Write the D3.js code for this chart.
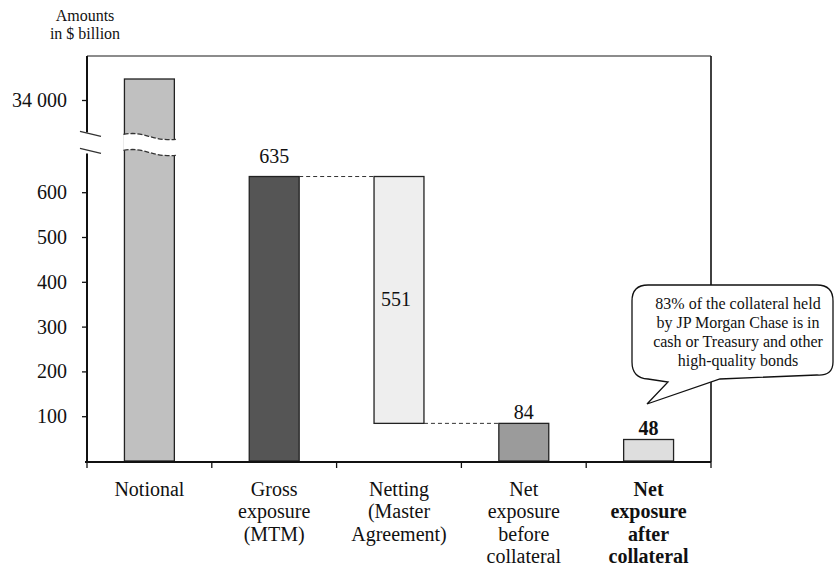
<!DOCTYPE html>
<html>
<head>
<meta charset="utf-8">
<script src="https://cdn.jsdelivr.net/npm/d3@7"></script>
<style>
  html, body { margin: 0; padding: 0; background: #fff; }
  svg { display: block; }
  svg text { font-family: "Liberation Serif", "Times New Roman", Times, "DejaVu Serif", serif; }
</style>
</head>
<body>
<svg id="chart" width="835" height="569"></svg>
<script>
// Derivative exposure waterfall, amounts in $ billion
const categories = ["Notional", "Gross exposure (MTM)", "Netting (Master Agreement)",
                    "Net exposure before collateral", "Net exposure after collateral"];
const categoryLines = [
  ["Notional"],
  ["Gross", "exposure", "(MTM)"],
  ["Netting", "(Master", "Agreement)"],
  ["Net", "exposure", "before", "collateral"],
  ["Net", "exposure", "after", "collateral"]
];
const values = [35000, 635, 551, 84, 48];        // bar heights
const bases = [0, 0, 84, 0, 0];                   // netting floats between 84 and 635
const valueLabels = [null, "635", "551", "84", "48"];
const lowerTicks = [100, 200, 300, 400, 500, 600];
const upperTicks = [34000];
const calloutLines = ["83% of the collateral held", "by JP Morgan Chase is in",
                      "cash or Treasury and other", "high-quality bonds"];

const fills = ["#c0c0c0", "#555555", "#eeeeee", "#9b9b9b", "#dedede"];
const bold = [false, false, false, false, true];

(function draw() {
  const serif = "'Liberation Serif', 'Times New Roman', Times, 'DejaVu Serif', serif";
  const svg = d3.select("#chart");
  const fmt = d3.formatLocale({ decimal: ".", thousands: " ", grouping: [3], currency: ["$", ""] }).format(",d");

  const xL = 87, xR = 711, yT = 56;
  const x = d3.scaleBand().domain(categories).range([xL, xR]).paddingInner(0.6).paddingOuter(0.3);
  const yLow = d3.scaleLinear().domain([0, 700]).range([461, 147.4]);
  const yUp = d3.scaleLinear().domain([32000, 36000]).range([142, 58]);
  const bw = x.bandwidth();
  const breakY = yLow(700) - 5;

  // y position for a value, picking the segment of the broken axis
  const yOf = v => v > 700 ? yUp(v) : yLow(v);

  // frame: top and right edges
  svg.append("line").attr("x1", xL).attr("x2", xR).attr("y1", yT).attr("y2", yT)
    .attr("stroke", "#666").attr("stroke-width", 1.5);
  svg.append("line").attr("x1", xR).attr("x2", xR).attr("y1", yT).attr("y2", yLow(0) + 1)
    .attr("stroke", "#111").attr("stroke-width", 1.6);

  // bars
  const bars = categories.map((c, i) => ({ c, i, v: values[i], b: bases[i] }));
  svg.append("g").selectAll("rect").data(bars).join("rect")
    .attr("x", d => x(d.c))
    .attr("width", bw)
    .attr("y", d => yOf(d.b + d.v))
    .attr("height", d => yOf(d.b) - yOf(d.b + d.v))
    .attr("fill", d => fills[d.i])
    .attr("stroke", "#222")
    .attr("stroke-width", 1.3);

  // break in the notional bar: white band bounded by two dashed waves
  {
    const x0 = x(categories[0]) - 1, x1 = x(categories[0]) + bw + 1.5;
    const fwd = dy => `M${x0},${breakY - 8 + dy} C${x0 + 22},${breakY - 12 + dy} ${x1 - 26},${breakY - 1 + dy} ${x1},${breakY - 3 + dy}`;
    const back = dy => `L${x1},${breakY - 3 + dy} C${x1 - 26},${breakY - 1 + dy} ${x0 + 22},${breakY - 12 + dy} ${x0},${breakY - 8 + dy}`;
    svg.append("path")
      .attr("d", fwd(0) + " " + back(16) + " Z")
      .attr("fill", "#fff").attr("stroke", "none");
    [0, 16].forEach(dy => {
      svg.append("path").attr("d", fwd(dy)).attr("fill", "none")
        .attr("stroke", "#333").attr("stroke-width", 1.3).attr("stroke-dasharray", "5,2");
    });
  }

  // dashed connectors for the waterfall
  const conn = [
    { xa: x(categories[1]) + bw, xb: x(categories[2]), v: values[1] },
    { xa: x(categories[2]) + bw, xb: x(categories[3]), v: bases[2] }
  ];
  svg.append("g").selectAll("line").data(conn).join("line")
    .attr("x1", d => d.xa).attr("x2", d => d.xb)
    .attr("y1", d => yLow(d.v)).attr("y2", d => yLow(d.v))
    .attr("stroke", "#333").attr("stroke-width", 1).attr("stroke-dasharray", "4,3");

  // y axis (lower segment)
  const axLow = svg.append("g").attr("transform", `translate(${xL},0)`)
    .call(d3.axisLeft(yLow).tickValues(lowerTicks).tickSize(5).tickPadding(15).tickFormat(fmt));
  axLow.select(".domain").remove();
  axLow.append("line").attr("x1", 0).attr("x2", 0).attr("y1", breakY + 11).attr("y2", yLow(0) + 1)
    .attr("stroke", "#111").attr("stroke-width", 2);

  // y axis (upper segment)
  const axUp = svg.append("g").attr("transform", `translate(${xL},0)`)
    .call(d3.axisLeft(yUp).tickValues(upperTicks).tickSize(5).tickPadding(15).tickFormat(fmt));
  axUp.select(".domain").remove();
  axUp.append("line").attr("x1", 0).attr("x2", 0).attr("y1", yT).attr("y2", breakY - 10)
    .attr("stroke", "#111").attr("stroke-width", 2);

  svg.selectAll("g").attr("font-family", serif);
  svg.selectAll(".tick line").attr("stroke", "#111").attr("stroke-width", 1.3);
  svg.selectAll(".tick text").attr("font-size", 20).attr("fill", "#111");

  // axis break marks
  [[-11, -6], [6, 11]].forEach(([a, b]) => {
    svg.append("line").attr("x1", xL - 7).attr("x2", xL + 14)
      .attr("y1", breakY + a).attr("y2", breakY + b)
      .attr("stroke", "#333").attr("stroke-width", 1.3);
  });

  // x axis with ticks at category boundaries
  svg.append("line").attr("x1", xL - 2).attr("x2", xR).attr("y1", yLow(0) + 1).attr("y2", yLow(0) + 1)
    .attr("stroke", "#111").attr("stroke-width", 2);
  const bounds = d3.range(categories.length + 1).map(i => xL + i * x.step());
  svg.append("g").selectAll("line").data(bounds).join("line")
    .attr("x1", d => d).attr("x2", d => d)
    .attr("y1", yLow(0) + 1).attr("y2", yLow(0) + 7)
    .attr("stroke", "#111").attr("stroke-width", 1.3);

  // category labels
  categories.forEach((c, i) => {
    const t = svg.append("text")
      .attr("x", x(c) + bw / 2)
      .attr("y", 496)
      .attr("text-anchor", "middle")
      .attr("font-family", serif)
      .attr("font-size", 20)
      .attr("font-weight", bold[i] ? "bold" : "normal")
      .attr("fill", "#111");
    categoryLines[i].forEach((ln, k) => {
      t.append("tspan").attr("x", x(c) + bw / 2).attr("dy", k === 0 ? 0 : 22.3).text(ln);
    });
  });

  // value labels
  const labelOffset = [0, 13.5, 0, 4.5, 4];
  bars.forEach(d => {
    if (!valueLabels[d.i]) return;
    const cx = x(d.c) + bw / 2;
    const inside = d.b > 0;
    svg.append("text")
      .attr("x", inside ? cx - 3 : cx)
      .attr("y", inside ? (yLow(d.b) + yLow(d.b + d.v)) / 2 + 6 : yLow(d.b + d.v) - labelOffset[d.i])
      .attr("text-anchor", "middle")
      .attr("font-family", serif)
      .attr("font-size", 20)
      .attr("font-weight", bold[d.i] ? "bold" : "normal")
      .attr("fill", "#111")
      .text(valueLabels[d.i]);
  });

  // units title
  svg.append("text").attr("text-anchor", "middle")
    .attr("font-family", serif)
    .attr("font-size", 16).attr("fill", "#111")
    .selectAll("tspan").data(["Amounts", "in $ billion"]).join("tspan")
    .attr("x", 85).attr("y", (d, i) => 21 + i * 17.5).text(d => d);

  // callout bubble
  {
    const bx0 = 632, bx1 = 833, by0 = 285, by1 = 378, r = 16;
    const tip = [647, 404];
    const p = d3.path();
    p.moveTo(bx0 + r, by0);
    p.lineTo(bx1 - r, by0);
    p.quadraticCurveTo(bx1, by0, bx1, by0 + r);
    p.lineTo(bx1, by1 - r);
    p.quadraticCurveTo(bx1, by1 - 2, bx1 - r, by1 - 3);
    p.lineTo(720, by1 + 1);
    p.lineTo(tip[0], tip[1]);
    p.lineTo(668, by1 + 4);
    p.lineTo(bx0 + r, by1 + 1);
    p.quadraticCurveTo(bx0, by1, bx0, by1 - r);
    p.lineTo(bx0, by0 + r);
    p.quadraticCurveTo(bx0, by0, bx0 + r, by0);
    p.closePath();
    svg.append("path").attr("d", p.toString()).attr("fill", "#fff")
      .attr("stroke", "#111").attr("stroke-width", 1.3);
    svg.append("text").attr("text-anchor", "middle")
      .attr("font-family", serif)
      .attr("font-size", 16).attr("fill", "#111")
      .selectAll("tspan").data(calloutLines).join("tspan")
      .attr("x", 738).attr("y", (d, i) => 309 + i * 19).text(d => d);
  }
})();
</script>
</body>
</html>
